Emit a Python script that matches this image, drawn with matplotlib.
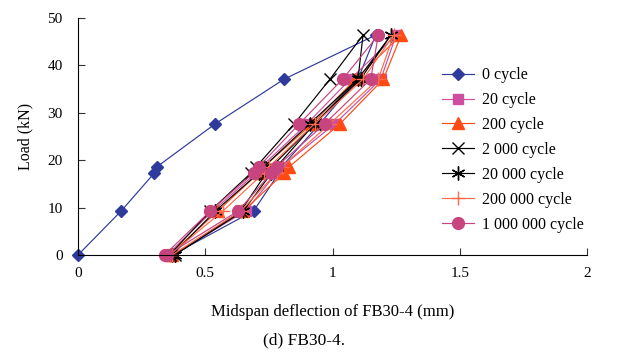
import matplotlib
matplotlib.use("Agg")
import matplotlib.pyplot as plt

plt.rcParams['font.family'] = ['Liberation Serif', 'DejaVu Serif']

# load steps: up then back down
load_up = [0, 9.3, 17.3, 18.6, 27.7, 37.1, 46.4]
load_down = [37.1, 27.7, 18.6, 17.3, 9.3, 0]
loads = load_up + load_down

# deflection readings (mm), loading branch then unloading branch
d_0 = [0, 0.17, 0.30, 0.31, 0.54, 0.81, 1.17, 1.10, 0.95, 0.80, 0.79, 0.69, 0.37]
d_20 = [0.35, 0.53, 0.70, 0.72, 0.90, 1.07, 1.25, 1.19, 1.01, 0.80, 0.78, 0.66, 0.37]
d_200 = [0.36, 0.55, 0.71, 0.73, 0.92, 1.09, 1.27, 1.20, 1.03, 0.83, 0.81, 0.65, 0.37]
d_2k = [0.36, 0.52, 0.68, 0.70, 0.85, 0.99, 1.12, 1.10, 0.93, 0.76, 0.74, 0.64, 0.38]
d_20k = [0.37, 0.54, 0.71, 0.73, 0.91, 1.10, 1.23, 1.11, 0.93, 0.78, 0.76, 0.65, 0.38]
d_200k = [0.36, 0.57, 0.73, 0.75, 0.93, 1.12, 1.24, 1.18, 0.99, 0.80, 0.78, 0.64, 0.37]
d_1m = [0.34, 0.52, 0.69, 0.71, 0.87, 1.04, 1.18, 1.15, 0.97, 0.78, 0.76, 0.63, 0.35]

series = [
    ("0 cycle", d_0, "#2E3A9C", "D", 6),
    ("20 cycle", d_20, "#CC4FA0", "s", 7.5),
    ("200 cycle", d_200, "#FF4A14", "^", 8.5),
    ("2 000 cycle", d_2k, "#000000", "x", 9),
    ("20 000 cycle", d_20k, "#000000", (6, 2, 0), 10),
    ("200 000 cycle", d_200k, "#FF6A4A", "+", 10),
    ("1 000 000 cycle", d_1m, "#C8447E", "o", 8.5),
]

fig = plt.figure(figsize=(6.2, 3.52), dpi=100)
ax = fig.add_axes([0.1258, 0.2756, 0.8210, 0.6733])

for name, d, col, mk, ms in series:
    ax.plot(d, loads, color=col, lw=0.85, marker=mk, markersize=ms,
            markeredgewidth=1.0, label=name, clip_on=False)

ax.set_xlim(0, 2)
ax.set_ylim(0, 50)
ax.set_xticks([0, 0.5, 1, 1.5, 2])
ax.set_xticklabels(["0", "0.5", "1", "1.5", "2"])
ax.set_yticks([0, 10, 20, 30, 40, 50])
ax.spines['top'].set_visible(False)
ax.spines['right'].set_visible(False)
ax.tick_params(direction='in', length=5, labelsize=11, color='#333333')
ax.tick_params(axis='x', pad=9)
ax.tick_params(axis='y', pad=11)
ax.set_xlabel("Midspan deflection of FB30-4 (mm)", fontsize=12, labelpad=17)
ax.set_ylabel("Load (kN)", fontsize=11.5, labelpad=10)

ax.legend(loc='upper left', bbox_to_anchor=(0.69, 0.85),
          bbox_transform=fig.transFigure, frameon=False, fontsize=11.5,
          handlelength=2.0, labelspacing=0.56, handletextpad=0.5)

fig.text(0.49, 0.034, "(d) FB30-4.", ha='center', va='center', fontsize=12.5)

fig.savefig("out.png", dpi=100)
